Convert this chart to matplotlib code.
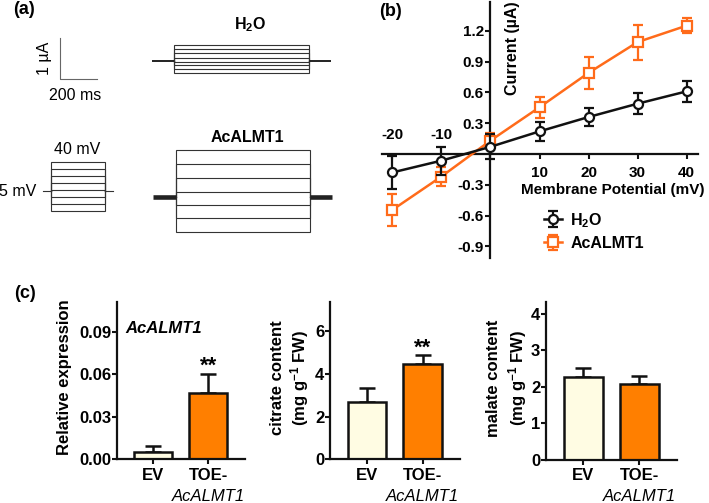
import matplotlib
matplotlib.use("Agg")
import matplotlib.pyplot as plt
import matplotlib.transforms as mtransforms
import numpy as np

plt.rcParams['font.family'] = ['Liberation Sans', 'DejaVu Sans']
plt.rcParams['axes.unicode_minus'] = False
plt.rcParams['mathtext.fontset'] = 'custom'
plt.rcParams['mathtext.rm'] = 'Liberation Sans:bold'
plt.rcParams['mathtext.it'] = 'Liberation Sans:bold:italic'
plt.rcParams['mathtext.bf'] = 'Liberation Sans:bold'
plt.rcParams['mathtext.default'] = 'rm'

# ---------------- data ----------------
# (a) current traces (uA) and voltage protocol (mV)
h2o_steps_uA = [0.39, 0.295, 0.19, 0.09, -0.01, -0.10, -0.20, -0.295]
acalmt1_steps_uA = [1.15, 0.80, 0.45, 0.12, -0.20, -0.53, -0.86]
protocol_mv = [40, 30, 20, 10, 0, -10, -20, -30]
holding_mv = -2
pre_ms, pulse_ms, post_ms = 120, 735, 120
scale_ms, scale_uA = 200, 1

# (b) I-V curves
voltage_mV = [-20, -10, 0, 10, 20, 30, 40]
h2o_I = [-0.18, -0.065, 0.07, 0.22, 0.36, 0.49, 0.61]
h2o_err = [0.16, 0.135, 0.12, 0.09, 0.09, 0.10, 0.105]
alm_I = [-0.545, -0.22, 0.13, 0.455, 0.79, 1.09, 1.25]
alm_err = [0.16, 0.09, 0.07, 0.10, 0.155, 0.17, 0.075]
iv_yticks = [-0.9, -0.6, -0.3, 0.3, 0.6, 0.9, 1.2]
iv_xticks = [-20, -10, 10, 20, 30, 40]

# (c) bar charts
groups = ['EV', 'TOE-']
expr = [0.0054, 0.0467]
expr_err = [0.0042, 0.0133]
citrate = [2.70, 4.46]
citrate_err = [0.63, 0.43]
malate = [2.27, 2.07]
malate_err = [0.26, 0.23]

W, H = 709, 503
fig = plt.figure(figsize=(W / 100, H / 100), dpi=100)


def px_axes(x0, y0, x1, y1):
    return fig.add_axes([x0 / W, 1 - y1 / H, (x1 - x0) / W, (y1 - y0) / H])


def ftext(x, y, s, **kw):
    kw.setdefault('ha', 'center')
    kw.setdefault('va', 'center')
    fig.text(x / W, 1 - y / H, s, **kw)


# ---------------- panel (a) ----------------
axa = px_axes(0, 0, 350, 270)
axa.set_xlim(0, 350)
axa.set_ylim(270, 0)
axa.axis('off')
px_ms = 36.7 / 200
px_uA = 40.7
trace_col = '#333333'


def draw_traces(x_start, y_hold, steps, hold_lw):
    xs = x_start - pre_ms * px_ms
    xe = x_start + pulse_ms * px_ms
    xp = xe + post_ms * px_ms
    for s in steps:
        yl = y_hold - s * px_uA
        axa.plot([x_start, x_start, xe, xe], [y_hold, yl, yl, y_hold],
                 color=trace_col, lw=0.8, solid_joinstyle='miter')
    axa.plot([xs, x_start], [y_hold, y_hold], color='#222222', lw=hold_lw,
             solid_capstyle='butt')
    axa.plot([xe, xp], [y_hold, y_hold], color='#222222', lw=hold_lw,
             solid_capstyle='butt')


draw_traces(174.3, 61.2, h2o_steps_uA, 1.4)
draw_traces(175.5, 196.7, acalmt1_steps_uA, 3.3)

# voltage protocol
p_x0, p_w, p_pre = 51, 54, 8.3
px_mV = 0.7


def vy(v):
    return 161.7 + (max(protocol_mv) - v) * px_mV


for v in protocol_mv:
    axa.plot([p_x0, p_x0, p_x0 + p_w, p_x0 + p_w],
             [vy(holding_mv), vy(v), vy(v), vy(holding_mv)],
             color=trace_col, lw=0.8, solid_joinstyle='miter')
axa.plot([p_x0 - p_pre, p_x0], [vy(holding_mv)] * 2, color=trace_col, lw=0.8)
axa.plot([p_x0 + p_w, p_x0 + p_w + p_pre], [vy(holding_mv)] * 2, color=trace_col, lw=0.8)

# scale bar
sb_x, sb_y = 60, 79
axa.plot([sb_x, sb_x, sb_x + scale_ms * px_ms], [sb_y - scale_uA * px_uA, sb_y, sb_y],
         color='#666666', lw=0.8)

ftext(24, 10, '(a)', fontsize=13, fontweight='bold')
ftext(250, 25, 'H$_2$O', fontsize=11.5, fontweight='bold')
ftext(247, 137, 'AcALMT1', fontsize=11.5, fontweight='bold')
ftext(45, 58, '1 µA', fontsize=11.5, rotation=90)
ftext(75, 95, '200 ms', fontsize=11.5)
ftext(77.5, 149, '40 mV', fontsize=11.5)
ftext(18, 191, '5 mV', fontsize=11.5)

# ---------------- panel (b) ----------------
black = '#111111'
orange = '#FF6B1A'
axb = px_axes(381.7, 2, 698.3, 258)
axb.set_xlim(-22.16, 42.36)
axb.set_ylim(-1.013, 1.48)
for sp in ['top', 'right']:
    axb.spines[sp].set_visible(False)
axb.spines['left'].set_position(('data', 0))
axb.spines['bottom'].set_position(('data', 0))
for sp in ['left', 'bottom']:
    axb.spines[sp].set_linewidth(1.6)
    axb.spines[sp].set_color(black)
axb.set_yticks(iv_yticks)
axb.set_yticklabels(['%.1f' % v for v in iv_yticks], fontsize=11, fontweight='bold')
axb.set_xticks(iv_xticks)
axb.set_xticklabels([])
axb.tick_params(axis='both', direction='out', length=3.5, width=1.5, color=black)
axb.tick_params(axis='y', pad=1.2)
for v in iv_xticks:
    off = 13.7 if v < 0 else -13.5
    axb.annotate(str(v), xy=(v, 0), xytext=(0, off), textcoords='offset points',
                 ha='center', va='center', fontsize=11, fontweight='bold')

e2 = axb.errorbar(voltage_mV, alm_I, yerr=alm_err, color=orange, lw=1.8,
                  marker='s', ms=6.5, mfc='white', mec=orange, mew=1.6,
                  elinewidth=1.6, capsize=3.6, capthick=1.6, label='AcALMT1',
                  zorder=3)
e1 = axb.errorbar(voltage_mV, h2o_I, yerr=h2o_err, color=black, lw=1.8,
                  marker='o', ms=6.5, mfc='white', mec=black, mew=1.6,
                  elinewidth=1.6, capsize=3.6, capthick=1.6, label='H$_2$O',
                  zorder=4)
for e in (e1, e2):
    for c in e[2]:
        c.set_clip_on(False)
axb.legend([e1, e2], ['H$_2$O', 'AcALMT1'], loc='upper left',
           bbox_to_anchor=(544 / W, 1 - 211 / H), bbox_transform=fig.transFigure,
           frameon=False, borderpad=0, borderaxespad=0, handlelength=1.1,
           handletextpad=0.55, labelspacing=0.4,
           prop={'weight': 'bold', 'size': 11.5})
ftext(390.8, 11.7, '(b)', fontsize=13, fontweight='bold')
ftext(512.5, 48.3, 'Current (µA)', fontsize=11.5, fontweight='bold', rotation=90)
ftext(613, 190, 'Membrane Potential (mV)', fontsize=11, fontweight='bold')

# ---------------- panel (c) ----------------
ev_col = '#FFFCE3'
toe_col = '#FF7F00'


def bar_panel(box, vals, errs, ylim, yticks, fmt):
    ax = px_axes(*box)
    x = np.arange(len(vals))
    ax.bar(x, vals, width=0.69, color=[ev_col, toe_col], edgecolor=black,
           linewidth=1.8, zorder=2)
    ax.errorbar(x, vals, yerr=[np.zeros(len(errs)), errs], fmt='none',
                ecolor=black, elinewidth=1.8, capsize=5.5, capthick=1.8, zorder=1)
    ax.set_xlim(-0.665, 1.67)
    ax.set_ylim(*ylim)
    for sp in ['top', 'right']:
        ax.spines[sp].set_visible(False)
    for sp in ['left', 'bottom']:
        ax.spines[sp].set_linewidth(1.6)
        ax.spines[sp].set_color(black)
    ax.set_yticks(yticks)
    ax.set_yticklabels([fmt % v for v in yticks], fontsize=12, fontweight='bold')
    ax.set_xticks(x)
    ax.set_xticklabels(groups, fontsize=12, fontweight='bold')
    ax.tick_params(axis='both', direction='out', length=3.5, width=1.5, color=black)
    ax.tick_params(axis='y', pad=0.6)
    ax.tick_params(axis='x', pad=2.5)
    trans = mtransforms.blended_transform_factory(ax.transData, ax.transAxes)
    ax.annotate('AcALMT1', xy=(1, 0), xycoords=trans, xytext=(0, -26.5),
                textcoords='offset points', ha='center', va='center',
                fontsize=12, fontstyle='italic')
    return ax


c1 = bar_panel((116.7, 302.3, 245, 459.3), expr, expr_err, (0, 0.111),
               [0, 0.03, 0.06, 0.09], '%.2f')
c2 = bar_panel((330, 302.3, 460, 459.3), citrate, citrate_err, (0, 7.35),
               [0, 2, 4, 6], '%d')
c3 = bar_panel((546, 302.3, 676.7, 460), malate, malate_err, (0, 4.32),
               [0, 1, 2, 3, 4], '%d')

c1.text(1, 0.0655, '**', ha='center', va='center', fontsize=16, fontweight='bold')
c2.text(1, 5.22, '**', ha='center', va='center', fontsize=16, fontweight='bold')
c1.text(-0.5, 0.0925, 'AcALMT1', ha='left', va='center', fontsize=12,
        fontweight='bold', fontstyle='italic')

ftext(25, 294, '(c)', fontsize=13, fontweight='bold')
ftext(65, 377, 'Relative expression', fontsize=12, fontweight='bold', rotation=90)
ftext(277, 378, 'citrate content', fontsize=12, fontweight='bold', rotation=90)
ftext(300, 378, '(mg g$^{-1}$ FW)', fontsize=12, fontweight='bold', rotation=90)
ftext(494, 378, 'malate content', fontsize=12, fontweight='bold', rotation=90)
ftext(517.5, 378, '(mg g$^{-1}$ FW)', fontsize=12, fontweight='bold', rotation=90)

fig.savefig('out.png', dpi=100)
